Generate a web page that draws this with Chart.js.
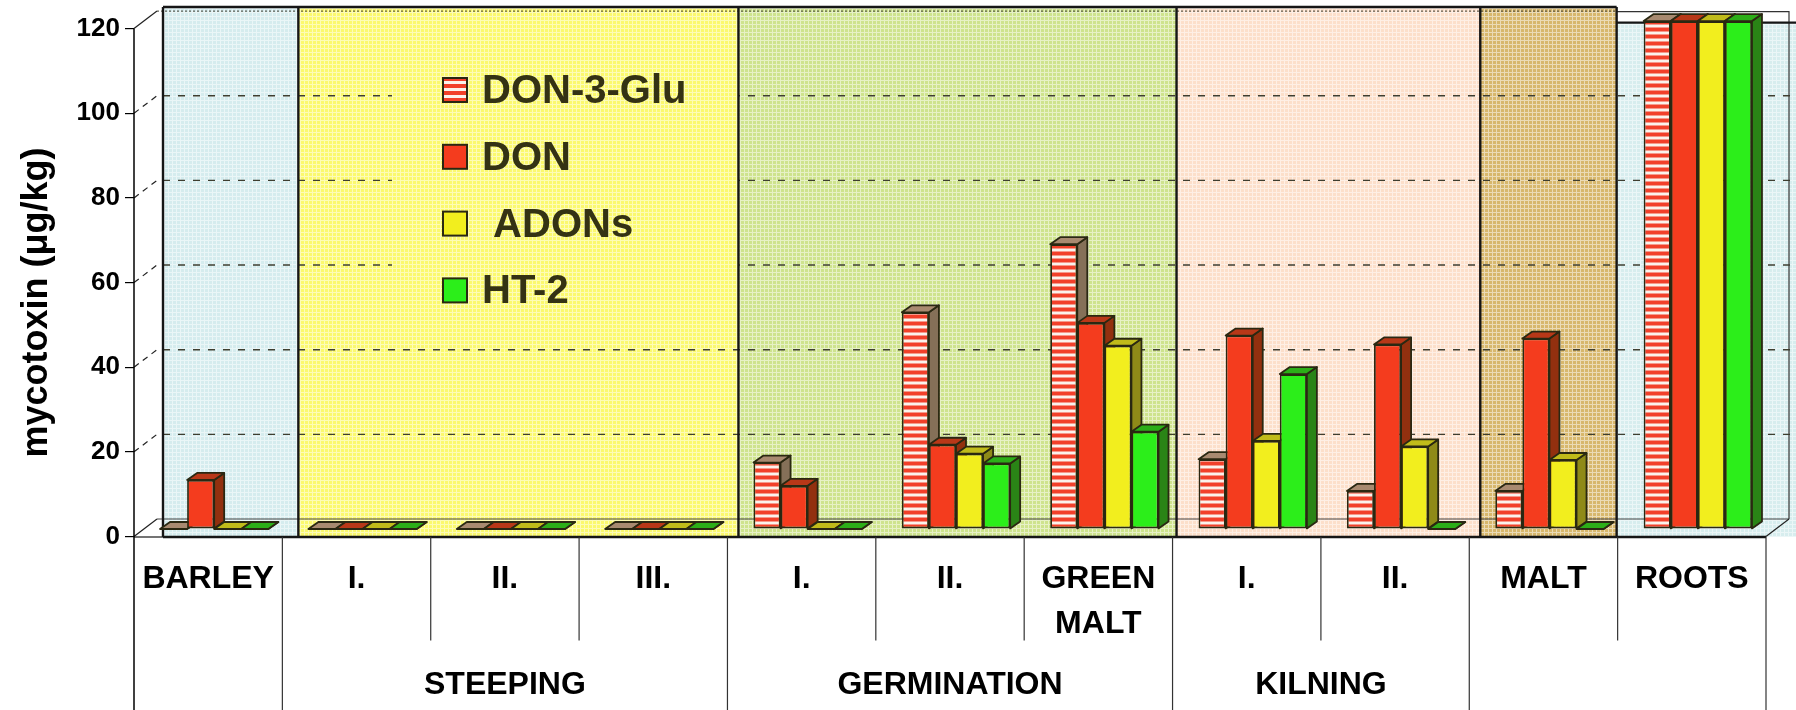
<!DOCTYPE html>
<html><head><meta charset="utf-8">
<script src="https://cdn.jsdelivr.net/npm/chart.js@4.4.1/dist/chart.umd.min.js"></script>
<style>html,body{margin:0;padding:0;background:#fff;}canvas{display:block;}</style>
</head><body>
<canvas id="c" width="1796" height="710"></canvas>
<script>
// ---------- data ----------
const categories = ['BARLEY', 'I.', 'II.', 'III.', 'I.', 'II.', ['GREEN', 'MALT'], 'I.', 'II.', 'MALT', 'ROOTS'];
const groupLabels = ['', 'STEEPING', 'GERMINATION', 'KILNING', ''];
const groupSpans = [1, 3, 3, 2, 2];
const panelSpans = [1, 3, 3, 2, 1, 1];
const seriesNames = ['DON-3-Glu', 'DON', ' ADONs', 'HT-2'];
const don3Glu = [0, 0, 0, 0, 15.7, 51.2, 67.3, 16.5, 9.0, 9.0, 120];
const don     = [11.6, 0, 0, 0, 10.2, 19.9, 48.7, 45.7, 43.6, 45.0, 120];
const adons   = [0, 0, 0, 0, 0, 17.8, 43.3, 20.8, 19.5, 16.3, 120];
const ht2     = [0, 0, 0, 0, 0, 15.5, 23.0, 36.6, 0, 0, 120];
const yTickValues = [0, 20, 40, 60, 80, 100, 120];

// ---------- styles ----------
const FONT = "'Liberation Sans', Arial, Helvetica, sans-serif";
const panelBase = ['#d5ecee', '#fbf96e', '#cee38d', '#fcdfca', '#d7b76c', '#d7edee'];
const panelShift = [29, 16, 11, 4, 11, -1];
const sideColors = ['#857058', '#92300f', '#8f8a18', '#2a8416'];
const topColors  = ['#a88a70', '#b83818', '#c0bb1a', '#2cae18'];
const OUTLINE = '#2a2812';
const SHIFT_X = 6, SHIFT_Y = -7.5;   // bar row sits mid-depth
const CAP_X = 10, CAP_Y = 7;         // bar depth
const WALL_X = 23, WALL_Y = 17.5;    // back wall depth

const canvas = document.getElementById('c');
const mainCtx = canvas.getContext('2d');
function stripes() {
  const c = document.createElement('canvas');
  c.width = 8; c.height = 7;
  const g = c.getContext('2d');
  g.fillStyle = '#fbf2ec'; g.fillRect(0, 0, 8, 7);
  g.fillStyle = '#f2402a'; g.fillRect(0, 0, 8, 4);
  return mainCtx.createPattern(c, 'repeat');
}
function texture(base) {
  const c = document.createElement('canvas');
  c.width = 4; c.height = 4;
  const g = c.getContext('2d');
  g.fillStyle = base; g.fillRect(0, 0, 4, 4);
  g.fillStyle = 'rgba(255,255,255,0.5)';
  g.fillRect(0, 0, 4, 1); g.fillRect(0, 1, 1, 3);
  return mainCtx.createPattern(c, 'repeat');
}
const panelFills = panelBase.map(texture);
const stripePattern = stripes();
const frontColors = [stripePattern, '#f43c1e', '#f2ee1e', '#2cee1a'];
const seriesData = [don3Glu, don, adons, ht2];

function line(ctx, x0, y0, x1, y1) { ctx.beginPath(); ctx.moveTo(x0, y0); ctx.lineTo(x1, y1); ctx.stroke(); }

const scene = {
  id: 'scene',
  beforeDraw(chart) {
    const {ctx, chartArea: ca, scales: {x, y}} = chart;
    const W = chart.width, H = chart.height;
    const catW = x.width / categories.length;
    const b = k => x.left + k * catW;
    const top = ca.top - 21.6, bottom = ca.bottom + 0.5;
    ctx.save();
    ctx.fillStyle = '#fff'; ctx.fillRect(0, 0, W, H);
    const edges = []; let k = 0;
    panelSpans.forEach((s, i) => { edges.push(b(k) + panelShift[i]); k += s; });
    edges.push(W);
    const rootsTop = ca.top - 6;
    for (let i = 0; i < panelSpans.length; i++) {
      const t = i === panelSpans.length - 1 ? rootsTop : top;
      ctx.fillStyle = panelFills[i];
      ctx.fillRect(edges[i], t, edges[i + 1] - edges[i], bottom - t);
    }
    const backY = v => y.getPixelForValue(v) - WALL_Y;
    const xr = x.right + WALL_X;
    ctx.strokeStyle = '#333'; ctx.lineWidth = 1.2;
    ctx.beginPath(); ctx.moveTo(edges[5], ca.top - 17); ctx.lineTo(xr, ca.top - 17); ctx.lineTo(xr, backY(0)); ctx.stroke();
    // back wall gridlines
    ctx.strokeStyle = '#3e3e30'; ctx.lineWidth = 1.4; ctx.setLineDash([7, 8]);
    yTickValues.forEach(v => {
      if (v === 0 || v === 120) return;
      line(ctx, x.left + 29, backY(v), W, backY(v));
    });
    ctx.setLineDash([2, 2]); ctx.lineWidth = 1;
    line(ctx, x.left + WALL_X, backY(120), edges[5], backY(120));
    ctx.setLineDash([]);
    ctx.strokeStyle = '#444'; ctx.lineWidth = 1.2;
    line(ctx, x.left + WALL_X, backY(0), xr, backY(0));
    ctx.strokeStyle = '#222';
    yTickValues.forEach(v => {
      ctx.setLineDash(v === 0 || v === 120 ? [] : [6, 5]);
      line(ctx, x.left, y.getPixelForValue(v), x.left + WALL_X, backY(v));
    });
    ctx.setLineDash([]);
    line(ctx, x.right, ca.bottom, xr, backY(0));
    // legend background
    ctx.fillStyle = panelFills[1];
    ctx.fillRect(392, 45, edges[2] - 392, 275);
    // panel borders
    ctx.strokeStyle = '#161616'; ctx.lineWidth = 2.4;
    line(ctx, edges[0], top, edges[5], top);
    for (let i = 0; i <= 5; i++) line(ctx, edges[i], top, edges[i], bottom);
    line(ctx, edges[5], rootsTop, W, rootsTop);
    line(ctx, edges[0], bottom, x.right, bottom);
    ctx.lineWidth = 1.2;
    line(ctx, x.left, bottom, edges[0], bottom);
    // category dividers
    const longSet = new Set([0]); let g = 0;
    groupSpans.forEach(s => { g += s; longSet.add(g); });
    ctx.strokeStyle = '#333'; ctx.lineWidth = 1.2;
    for (let i = 1; i <= categories.length; i++) {
      line(ctx, b(i), bottom, b(i), longSet.has(i) ? H : ca.bottom + 104);
    }
    ctx.strokeStyle = '#000'; ctx.lineWidth = 1.5;
    line(ctx, x.left, ca.top, x.left, H);
    // group labels
    ctx.fillStyle = '#000'; ctx.font = 'bold 32px ' + FONT;
    ctx.textAlign = 'center'; ctx.textBaseline = 'middle';
    let s0 = 0;
    groupSpans.forEach((s, i) => {
      if (groupLabels[i]) ctx.fillText(groupLabels[i], (b(s0) + b(s0 + s)) / 2, ca.bottom + 149);
      s0 += s;
    });
    // y title
    ctx.save();
    ctx.translate(37, (ca.top + ca.bottom) / 2 + 20);
    ctx.rotate(-Math.PI / 2);
    ctx.font = 'bold 36px ' + FONT;
    ctx.fillText('mycotoxin (\u03bcg/kg)', 0, 0);
    ctx.restore();
    ctx.restore();
  },
  beforeDatasetsDraw(chart) {
    const ctx = chart.ctx;
    ctx.save();
    ctx.translate(SHIFT_X, SHIFT_Y);
    chart.data.datasets.forEach((ds, di) => {
      const meta = chart.getDatasetMeta(di);
      meta.data.forEach(el => {
        const {x: cx, y: ty, base, width} = el.getProps(['x', 'y', 'base', 'width'], true);
        const xl = cx - width / 2, xr = cx + width / 2;
        ctx.lineWidth = 1.8; ctx.strokeStyle = OUTLINE; ctx.lineJoin = 'round';
        ctx.beginPath();
        ctx.moveTo(xr, ty); ctx.lineTo(xr + CAP_X, ty - CAP_Y);
        ctx.lineTo(xr + CAP_X, base - CAP_Y); ctx.lineTo(xr, base); ctx.closePath();
        ctx.fillStyle = sideColors[di]; ctx.fill(); ctx.stroke();
        ctx.beginPath();
        ctx.moveTo(xl, ty); ctx.lineTo(xr, ty);
        ctx.lineTo(xr + CAP_X, ty - CAP_Y); ctx.lineTo(xl + CAP_X, ty - CAP_Y); ctx.closePath();
        ctx.fillStyle = topColors[di]; ctx.fill(); ctx.stroke();
      });
    });
  },
  afterDatasetsDraw(chart) {
    chart.ctx.restore();
  },
  afterDraw(chart) {
    const ctx = chart.ctx;
    ctx.save();
    ctx.textAlign = 'left'; ctx.textBaseline = 'middle';
    ctx.font = 'bold 40px ' + FONT;
    chart.data.datasets.forEach((ds, i) => {
      const cy = 90 + i * 66.8;
      ctx.fillStyle = ds.backgroundColor;
      ctx.fillRect(443, cy - 12, 24, 24);
      ctx.strokeStyle = OUTLINE; ctx.lineWidth = 2;
      ctx.strokeRect(443, cy - 12, 24, 24);
      ctx.fillStyle = '#343214';
      ctx.fillText(ds.label, 482, cy + 2);
    });
    ctx.restore();
  }
};

new Chart(canvas, {
  type: 'bar',
  data: {
    labels: categories,
    datasets: seriesNames.map((name, i) => ({
      label: name,
      data: seriesData[i],
      backgroundColor: frontColors[i],
      borderColor: OUTLINE,
      borderWidth: 1.8,
      borderSkipped: false,
      categoryPercentage: 0.73,
      barPercentage: 1.0,
      clip: false
    }))
  },
  options: {
    responsive: false,
    animation: false,
    devicePixelRatio: 1,
    layout: {padding: {top: 28.6, right: 30, left: 0, bottom: 0}},
    plugins: {legend: {display: false}, tooltip: {enabled: false}},
    scales: {
      x: {
        grid: {display: false},
        border: {display: false},
        ticks: {
          autoSkip: false, maxRotation: 0, padding: 12, color: '#000',
          font: {family: FONT, size: 32, weight: 'bold', lineHeight: 1.4}
        },
        afterFit(scale) { scale.height = 173.5; }
      },
      y: {
        min: 0, max: 120,
        grid: {drawOnChartArea: false, drawTicks: true, tickLength: 9, color: '#000', lineWidth: 1.2},
        border: {display: false},
        ticks: {
          stepSize: 20, padding: 5, color: '#000',
          font: {family: FONT, size: 26, weight: 'bold'}
        },
        afterFit(scale) { scale.width = 134; }
      }
    }
  },
  plugins: [scene]
});
</script>
</body></html>
